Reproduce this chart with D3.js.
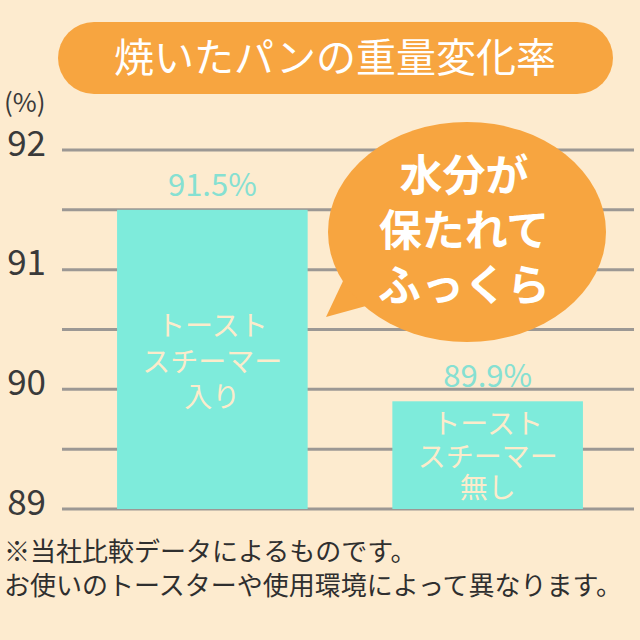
<!DOCTYPE html>
<html><head><meta charset="utf-8">
<script src="https://cdn.jsdelivr.net/npm/d3@7"></script>
<style>html,body{margin:0;padding:0;background:#FDEBCF;}svg{display:block;}</style>
</head><body>
<script>
const title = "焼いたパンの重量変化率";
const unitLabel = "(%)";
const categories = ["スチーマー入り", "スチーマー無し"];
const barLabels = [["トースト","スチーマー","入り"],["トースト","スチーマー","無し"]];
const values = [91.5, 89.9];
const valueLabels = ["91.5%", "89.9%"];
const tickValues = [89, 90, 91, 92];
const gridValues = [89, 89.5, 90, 90.5, 91, 91.5, 92];
const bubbleLines = ["水分が", "保たれて", "ふっくら"];
const notes = ["※当社比較データによるものです。", "お使いのトースターや使用環境によって異なります。"];

const W = 640, H = 640;
const font = "'Noto Sans CJK JP', 'Noto Sans', sans-serif";
const svg = d3.select("body").append("svg").attr("width", W).attr("height", H);
svg.append("rect").attr("width", W).attr("height", H).attr("fill", "#FDEBCF");

const y = d3.scaleLinear().domain([89, 92]).range([509, 150]);
const x = d3.scaleBand().domain(categories).range([62, 638]).paddingInner(0.3077).paddingOuter(0.2);

// grid
svg.append("g").selectAll("line").data(gridValues).join("line")
  .attr("x1", 62).attr("x2", 634)
  .attr("y1", d => y(d)).attr("y2", d => y(d))
  .attr("stroke", "#9C9894").attr("stroke-width", 3);

// axis labels
const axis = d3.axisLeft(y).tickValues(tickValues).tickSize(0).tickPadding(0).tickFormat(d3.format("d"));
const ag = svg.append("g").attr("transform", "translate(46,0)").call(axis);
ag.select(".domain").remove();
ag.selectAll("text").attr("font-family", font).attr("font-size", 35).attr("fill", "#3a3a3a").attr("dy", "0.15em");

svg.append("text").attr("x", 4).attr("y", 112).attr("font-family", font).attr("font-size", 26)
  .attr("fill", "#3a3a3a").text(unitLabel);

// bars
svg.append("g").selectAll("rect").data(values).join("rect")
  .attr("x", (d,i) => x(categories[i])).attr("width", x.bandwidth())
  .attr("y", d => y(d)).attr("height", d => y(89) - y(d))
  .attr("fill", "#7EEBDB");

// value labels
svg.append("g").selectAll("text").data(values).join("text")
  .attr("x", (d,i) => x(categories[i]) + x.bandwidth()/2)
  .attr("y", d => y(d) - 14)
  .attr("text-anchor", "middle").attr("font-family", font).attr("font-size", 31)
  .attr("fill", "#86E0D2").text((d,i) => valueLabels[i]);

// in-bar labels
const inY = [[336, 372, 407], [434, 467, 498]];
barLabels.forEach((lines, i) => {
  svg.append("g").selectAll("text").data(lines).join("text")
    .attr("x", x(categories[i]) + x.bandwidth()/2)
    .attr("y", (d,j) => inY[i][j])
    .attr("text-anchor", "middle").attr("font-family", font).attr("font-size", 28)
    .attr("fill", "#FCEBCB").text(d => d);
});

// title pill
svg.append("rect").attr("x", 58).attr("y", 22).attr("width", 555).attr("height", 72).attr("rx", 36)
  .attr("fill", "#F7A540");
svg.append("text").attr("x", 335).attr("y", 72).attr("text-anchor", "middle")
  .attr("font-family", font).attr("font-size", 40).attr("fill", "#FFFFFF").text(title);

// speech bubble
const bub = svg.append("g");
bub.append("path").attr("d", "M352,262 L326,317 L395,298 Z").attr("fill", "#F7A540");
bub.append("ellipse").attr("cx", 467).attr("cy", 232).attr("rx", 139).attr("ry", 110).attr("fill", "#F7A540");
bub.selectAll("text").data(bubbleLines).join("text")
  .attr("x", 464).attr("y", (d,i) => 191 + i*55)
  .attr("text-anchor", "middle").attr("font-family", font).attr("font-weight", "bold")
  .attr("font-size", 43).attr("fill", "#FFFFFF").text(d => d);

// notes
svg.append("g").selectAll("text").data(notes).join("text")
  .attr("x", 4).attr("y", (d,i) => 561 + i*34)
  .attr("font-family", font).attr("font-size", 26).attr("fill", "#2f2f2f").text(d => d);
</script>
</body></html>
